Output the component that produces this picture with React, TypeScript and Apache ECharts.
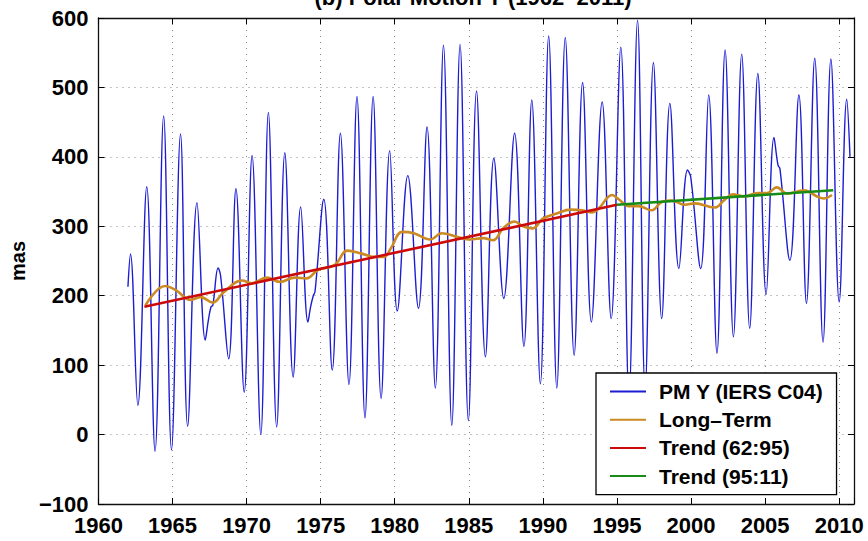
import React, { useEffect, useRef } from 'react';
import * as echarts from 'echarts';

const seriesNames = ['PM Y (IERS C04)', 'Long–Term', 'Trend (62:95)', 'Trend (95:11)'];

const pmYears = [
  1961.99, 1962.16, 1962.66, 1963.26, 1963.82, 1964.40, 1964.93, 1965.54, 1966.02, 1966.65,
  1967.21, 1967.42, 1967.60, 1967.72, 1968.08, 1968.25, 1968.79, 1969.28, 1969.84, 1970.37,
  1970.96, 1971.47, 1972.03, 1972.58, 1973.14, 1973.65, 1974.14, 1974.32, 1974.50, 1974.62,
  1975.21, 1975.78, 1976.33, 1976.91, 1977.45, 1977.99, 1978.54, 1979.08, 1979.66, 1980.17,
  1980.88, 1981.60, 1982.18, 1982.74, 1983.29, 1983.85, 1984.41, 1984.97, 1985.52, 1986.12,
  1986.69, 1987.36, 1988.09, 1988.72, 1989.25, 1989.83, 1990.39, 1990.94, 1991.51, 1992.11,
  1992.68, 1993.27, 1994.00, 1994.61, 1995.26, 1995.81, 1996.39, 1996.90, 1997.46, 1998.02,
  1998.57, 1999.18, 1999.76, 1999.98, 2000.65, 2001.19, 2001.75, 2002.30, 2002.86, 2003.42,
  2003.96, 2004.51, 2005.07, 2005.60, 2005.87, 2006.00, 2006.67, 2007.28, 2007.79, 2008.35,
  2008.91, 2009.44, 2010.00, 2010.51, 2010.73,
];
const pmValues = [
  213, 260, 42, 357, -24, 459, -22, 433, 12, 334,
  136, 165, 184, 186, 240, 228, 109, 354, 61, 402,
  0, 464, 11, 406, 83, 328, 162, 184, 200, 206,
  339, 93, 434, 72, 487, 24, 487, 52, 409, 178,
  373, 182, 443, 67, 561, 13, 562, 20, 495, 112,
  398, 196, 434, 127, 482, 73, 574, 67, 572, 114,
  507, 162, 479, 167, 558, 55, 597, 65, 536, 167,
  477, 239, 381, 371, 239, 489, 117, 554, 141, 548,
  153, 520, 202, 428, 388, 383, 251, 489, 189, 542,
  133, 541, 191, 483, 400,
];

const ltYears = [
  1963.17, 1964.50, 1965.22, 1966.22, 1966.89, 1967.72, 1968.45, 1969.69, 1970.35, 1971.36,
  1972.25, 1973.25, 1974.04, 1974.81, 1975.93, 1976.82, 1977.72, 1978.61, 1979.28, 1979.73,
  1980.50, 1981.29, 1982.40, 1983.18, 1984.18, 1985.08, 1985.97, 1986.64, 1987.31, 1988.09,
  1988.65, 1989.32, 1989.99, 1990.88, 1991.88, 1992.66, 1993.33, 1993.78, 1994.67, 1995.12,
  1995.79, 1996.46, 1997.35, 1998.02, 1998.69, 1999.58, 2000.25, 2001.59, 2002.26, 2002.82,
  2003.59, 2004.49, 2005.16, 2005.78, 2006.50, 2007.61, 2008.51, 2008.95, 2009.51,
];
const ltValues = [
  186, 214, 208, 194, 198, 190, 205, 222, 218, 226,
  220, 226, 225, 237, 244, 265, 261, 256, 256, 268,
  292, 290, 281, 290, 285, 281, 283, 280, 297, 307,
  300, 297, 311, 318, 324, 323, 320, 326, 345, 339,
  329, 329, 323, 335, 337, 331, 333, 327, 338, 346,
  343, 348, 348, 356, 347, 352, 343, 340, 345,
];

const trend1Years = [1963.1, 1995.0];
const trend1Values = [184, 331];
const trend2Years = [1995.0, 2009.6];
const trend2Values = [331, 352];

const xTicks = { min: 1960, max: 2011, step: 5 };
const yTicks = { min: -100, max: 600, step: 100 };

const titleText = '(b) Polar Motion Y (1962–2011)';
const yAxisName = 'mas';

const zip = (xs: number[], ys: number[]) => xs.map((x, i) => [x, ys[i]]);

const FONT = '"Liberation Sans", Arial, Helvetica, sans-serif';

export default function App() {
  const ref = useRef<HTMLDivElement>(null);

  useEffect(() => {
    if (!ref.current) return;
    const chart = echarts.init(ref.current, undefined, { renderer: 'svg' });

    const tickStyle = { show: true, inside: true, length: 6, lineStyle: { color: '#000', width: 1 } };
    const lineStyle = { show: true, onZero: false, lineStyle: { color: '#111', width: 1.3 } };
    const split = { show: true, lineStyle: { color: '#888', width: 1, type: [1, 5] as any } };
    const labelStyle = { color: '#000', fontSize: 22, fontWeight: 'bold' as const, fontFamily: FONT };

    chart.setOption({
      animation: false,
      backgroundColor: '#fff',
      grid: { left: 92, right: 14, top: 18, bottom: 37, containLabel: false },
      graphic: [
        {
          type: 'text',
          x: 473,
          y: 8,
          style: {
            text: titleText,
            fontSize: 22,
            fontWeight: 'bold',
            fontFamily: FONT,
            fill: '#000',
            align: 'center',
            verticalAlign: 'bottom',
          },
        },
      ],
      legend: {
        orient: 'vertical',
        left: 596,
        top: 373,
        data: seriesNames,
        itemWidth: 36,
        itemHeight: 14,
        itemGap: 7.2,
        padding: [8, 13, 8, 13],
        borderColor: '#000',
        borderWidth: 1.3,
        borderRadius: 0,
        backgroundColor: '#fff',
        itemStyle: { opacity: 0, color: 'rgba(0,0,0,0)', borderWidth: 0 },
        textStyle: { ...labelStyle, fontSize: 21, padding: [0, 0, 0, 8] },
        z: 10,
      },
      xAxis: [
        {
          type: 'value',
          min: xTicks.min,
          max: xTicks.max,
          interval: xTicks.step,
          position: 'bottom',
          axisLine: lineStyle,
          axisTick: tickStyle,
          splitLine: split,
          axisLabel: {
            ...labelStyle,
            margin: 10,
            formatter: (v: number) => (v % 5 === 0 ? String(v) : ''),
          },
        },
        {
          type: 'value',
          min: xTicks.min,
          max: xTicks.max,
          interval: xTicks.step,
          position: 'top',
          axisLine: lineStyle,
          axisTick: tickStyle,
          splitLine: { show: false },
          axisLabel: { show: false },
        },
      ],
      yAxis: [
        {
          type: 'value',
          min: yTicks.min,
          max: yTicks.max,
          interval: yTicks.step,
          position: 'left',
          name: yAxisName,
          nameLocation: 'middle',
          nameRotate: 90,
          nameGap: 62,
          nameTextStyle: { ...labelStyle, fontSize: 20 },
          axisLine: lineStyle,
          axisTick: tickStyle,
          splitLine: split,
          axisLabel: {
            ...labelStyle,
            margin: 10,
            formatter: (v: number) => String(v).replace('-', '−'),
          },
        },
        {
          type: 'value',
          min: yTicks.min,
          max: yTicks.max,
          interval: yTicks.step,
          position: 'right',
          axisLine: lineStyle,
          axisTick: tickStyle,
          splitLine: { show: false },
          axisLabel: { show: false },
        },
      ],
      series: [
        {
          name: seriesNames[0],
          type: 'line',
          data: zip(pmYears, pmValues),
          smooth: 0.4,
          symbol: 'none',
          lineStyle: { color: '#1c1cd2', width: 1.4 },
          itemStyle: { color: '#1c1cd2' },
          z: 2,
        },
        {
          name: seriesNames[1],
          type: 'line',
          data: zip(ltYears, ltValues),
          smooth: 0.4,
          symbol: 'none',
          lineStyle: { color: '#cc8a22', width: 2.6 },
          itemStyle: { color: '#cc8a22' },
          z: 3,
        },
        {
          name: seriesNames[2],
          type: 'line',
          data: zip(trend1Years, trend1Values),
          symbol: 'none',
          lineStyle: { color: '#cc0a0a', width: 2.6 },
          itemStyle: { color: '#cc0a0a' },
          z: 4,
        },
        {
          name: seriesNames[3],
          type: 'line',
          data: zip(trend2Years, trend2Values),
          symbol: 'none',
          lineStyle: { color: '#168c16', width: 2.6 },
          itemStyle: { color: '#168c16' },
          z: 4,
        },
      ],
    });

    return () => chart.dispose();
  }, []);

  return (
    <div
      ref={ref}
      style={{ position: 'absolute', left: 0, top: 0, width: 868, height: 541 }}
    />
  );
}
